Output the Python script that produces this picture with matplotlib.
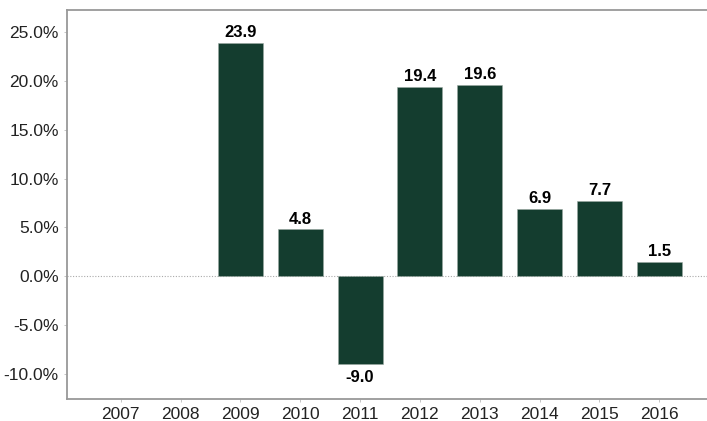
import numpy as np
import matplotlib
matplotlib.use("Agg")
import matplotlib.pyplot as plt

years = ["2007", "2008", "2009", "2010", "2011", "2012", "2013", "2014", "2015", "2016"]
values = [np.nan, np.nan, 23.9, 4.8, -9.0, 19.4, 19.6, 6.9, 7.7, 1.5]
yticks = [-10, -5, 0, 5, 10, 15, 20, 25]

plt.rcParams['font.family'] = ['Liberation Sans', 'DejaVu Sans']

W, H = 707, 421
fig = plt.figure(figsize=(W/100, H/100), dpi=100)
ax = fig.add_axes([67/W, 1 - 398.5/H, (W - 67)/W, (398.5 - 9.5)/H])

x = np.arange(len(years))
ax.bar(x, values, width=0.75, color="#143d2f", edgecolor="#9aa8a2", linewidth=0.4, zorder=3)
ax.axhline(0, color="#aaaaaa", linestyle=(0, (1, 1.5)), linewidth=0.8, zorder=2)

for xi, v in zip(x, values):
    if np.isnan(v):
        continue
    if v >= 0:
        ax.annotate(f"{v:.1f}", (xi, v), xytext=(0, 2), textcoords="offset points",
                    ha="center", va="bottom", fontsize=12, fontweight="bold", color="black")
    else:
        ax.annotate(f"{v:.1f}", (xi, v), xytext=(0, -4), textcoords="offset points",
                    ha="center", va="top", fontsize=12, fontweight="bold", color="black")

ax.set_xlim(-0.9, 9.8)
ax.set_ylim(-12.5, 27.3)
ax.set_xticks(x)
ax.set_xticklabels(years)
ax.set_yticks(yticks)
ax.set_yticklabels([f"{t:.1f}%" for t in yticks])
ax.tick_params(axis="both", labelsize=12.5, colors="#222222", length=2, width=0.6)
ax.tick_params(axis="x", pad=4, color="#bbbbbb")
ax.tick_params(axis="y", pad=4, color="#bbbbbb")

for s in ["left", "bottom", "top"]:
    ax.spines[s].set_color("#999999")
    ax.spines[s].set_linewidth(1.3)
ax.spines["right"].set_visible(False)

fig.savefig("out.png", dpi=100)
